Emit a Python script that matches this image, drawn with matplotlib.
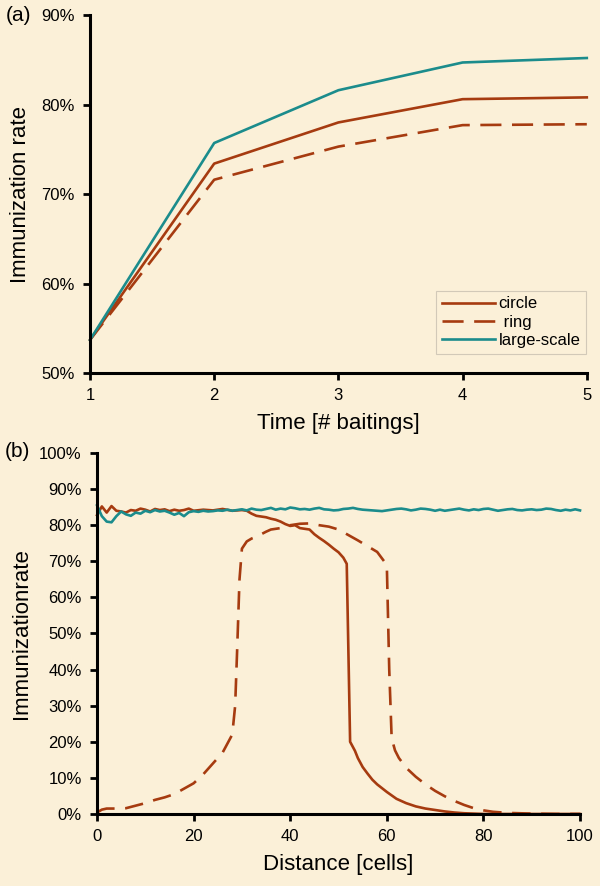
import matplotlib
matplotlib.use("Agg")
import matplotlib.pyplot as plt

plt.rcParams['font.family'] = ['Liberation Sans', 'DejaVu Sans']

# panel (a): immunization rate vs number of baitings
time_x = [1, 2, 3, 4, 5]
a_circle = [53.7, 73.4, 78.0, 80.6, 80.8]
a_ring = [53.7, 71.6, 75.3, 77.7, 77.8]
a_large = [53.7, 75.7, 81.6, 84.7, 85.2]

# panel (b): immunization rate vs distance
large_x = list(range(0, 101))
large_y = [85.5, 82.5, 81.0, 80.8, 82.5, 83.8, 83.0, 82.6, 83.5, 83.2,
           84.0, 83.6, 84.2, 83.8, 84.0, 83.5, 82.9, 83.4, 82.5, 83.6,
           83.9, 83.7, 84.0, 83.8, 83.9, 84.1, 84.0, 84.3, 84.0, 84.2,
           84.4, 84.1, 84.6, 84.3, 84.2, 84.5, 84.8, 84.3, 84.6, 84.4,
           84.9, 84.7, 84.4, 84.5, 84.3, 84.6, 84.8, 84.4, 84.3, 84.1,
           84.2, 84.5, 84.6, 84.8, 84.5, 84.3, 84.2, 84.1, 84.0, 83.9,
           84.1, 84.3, 84.5, 84.6, 84.4, 84.1, 84.3, 84.6, 84.5, 84.3,
           84.0, 84.3, 84.0, 84.2, 84.4, 84.6, 84.3, 84.1, 84.4, 84.2,
           84.5, 84.6, 84.3, 84.0, 84.2, 84.4, 84.5, 84.2, 84.1, 84.3,
           84.4, 84.2, 84.3, 84.6, 84.5, 84.2, 84.0, 84.3, 84.1, 84.4,
           84.1]

circle_x = [0, 1, 2, 3, 4, 5, 6, 7, 8, 9,
            10, 11, 12, 13, 14, 15, 16, 17, 18, 19,
            20, 22, 24, 26, 28, 30, 31, 32, 33, 34,
            35, 36, 37, 38, 39, 40, 41, 42, 43, 44,
            45, 46, 47, 48, 49, 50, 51, 51.7, 52.4, 53.4,
            54, 55, 56, 57, 58, 60, 62, 64, 66, 68,
            70, 72, 74, 76, 78, 80, 90, 100]
circle_y = [82.8, 85.2, 83.5, 85.3, 84.0, 83.8, 83.5, 84.2, 84.0, 84.6,
            84.3, 83.8, 84.5, 84.2, 84.4, 83.9, 84.3, 84.0, 84.2, 84.6,
            84.0, 84.3, 84.1, 84.5, 84.0, 84.2, 84.0, 83.2, 82.6, 82.4,
            82.2, 81.8, 81.5, 81.0, 80.3, 79.8, 80.0, 79.2, 79.0, 78.8,
            77.5, 76.5, 75.6, 74.6, 73.5, 72.5, 71.0, 69.3, 20.0, 17.5,
            15.5, 13.0, 11.2, 9.5, 8.2, 6.1, 4.2, 3.0, 2.1, 1.5,
            1.1, 0.7, 0.4, 0.2, 0.1, 0.0, 0.0, 0.0]

ring_x = [0, 1, 2, 4, 6, 8, 10, 12, 14, 16,
          18, 20, 22, 24, 26, 27, 28, 28.6, 29, 29.5,
          30, 31, 32, 33, 34, 35, 36, 38, 40, 42,
          44, 46, 48, 50, 52, 54, 56, 58, 59, 60,
          60.5, 61, 61.7, 62.5, 64, 66, 68, 70, 72, 74,
          76, 78, 80, 82, 85, 90, 95, 100]
ring_y = [0.4, 1.2, 1.5, 1.5, 1.6, 2.3, 3.0, 3.9, 4.6, 5.5,
          7.0, 8.5, 11.0, 14.0, 17.0, 19.5, 22.0, 30.0, 45.0, 65.0,
          73.5, 75.5, 76.3, 76.8, 77.5, 78.2, 78.8, 79.2, 80.0, 80.4,
          80.5, 80.0, 79.6, 78.8, 77.3, 75.8, 74.2, 72.6, 70.8, 69.0,
          40.0, 21.0, 17.6, 15.5, 12.8, 10.3, 8.2, 6.4, 4.9, 3.6,
          2.5, 1.6, 1.0, 0.6, 0.3, 0.1, 0.0, 0.0]

brown = '#a63b10'
teal = '#1b8c8c'
bg = '#fbf0d8'

fig = plt.figure(figsize=(6, 8.86), dpi=100, facecolor=bg)
ax1 = fig.add_axes([0.15, 0.579, 0.828, 0.404])
ax2 = fig.add_axes([0.1617, 0.0813, 0.805, 0.4074])


def style(ax):
    ax.set_facecolor('none')
    for s in ['top', 'right']:
        ax.spines[s].set_visible(False)
    for s in ['left', 'bottom']:
        ax.spines[s].set_linewidth(2.2)
    ax.tick_params(direction='out', length=5, width=2, labelsize=12, pad=6)


# ---- panel (a)
ax1.plot(time_x, a_circle, color=brown, lw=1.9, label='circle', clip_on=False)
ax1.plot(time_x, a_ring, color=brown, lw=1.9, dashes=(8, 4), label=' ring', clip_on=False)
ax1.plot(time_x, a_large, color=teal, lw=1.9, label='large-scale', clip_on=False)
ax1.set_xlim(1, 5)
ax1.set_ylim(50, 90)
ax1.set_xticks([1, 2, 3, 4, 5])
ax1.set_yticks([50, 60, 70, 80, 90])
ax1.set_yticklabels([f'{v}%' for v in [50, 60, 70, 80, 90]])
style(ax1)
ax1.set_xlabel('Time [# baitings]', fontsize=16, labelpad=7)
ax1.set_ylabel('Immunization rate', fontsize=16, labelpad=7)
leg = ax1.legend(loc='lower right', bbox_to_anchor=(1.016, 0.03), fontsize=12,
                 handlelength=3.2, handletextpad=0.2, labelspacing=0.2,
                 fancybox=False, frameon=True, borderpad=0.35)
leg.get_frame().set_facecolor('none')
leg.get_frame().set_edgecolor('#c8c0b0')
leg.get_frame().set_linewidth(0.8)
fig.text(0.01, 0.983, '(a)', fontsize=15, va='center', ha='left')

# ---- panel (b)
ax2.plot(circle_x, circle_y, color=brown, lw=1.9, clip_on=False)
ax2.plot(ring_x, ring_y, color=brown, lw=1.9, dashes=(7, 4), clip_on=False)
ax2.plot(large_x, large_y, color=teal, lw=1.9, clip_on=False)
ax2.set_xlim(0, 100)
ax2.set_ylim(0, 100)
ax2.set_xticks([0, 20, 40, 60, 80, 100])
ax2.set_yticks(range(0, 101, 10))
ax2.set_yticklabels([f'{v}%' for v in range(0, 101, 10)])
style(ax2)
ax2.set_xlabel('Distance [cells]', fontsize=16, labelpad=7)
ax2.set_ylabel('Immunizationrate', fontsize=16, labelpad=5)
fig.text(0.008, 0.49, '(b)', fontsize=15, va='center', ha='left')

fig.savefig('out.png', dpi=100, facecolor=bg)
